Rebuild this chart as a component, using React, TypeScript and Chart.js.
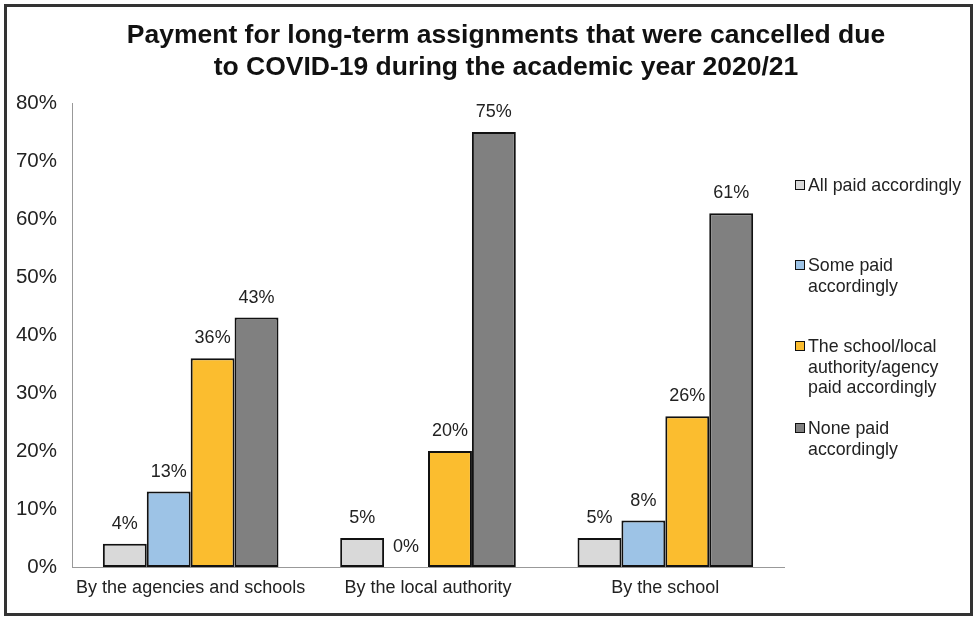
import React, { useEffect, useRef } from "react";
import { Chart, registerables } from "chart.js";

Chart.register(...registerables);

const categories = ["By the agencies and schools", "By the local authority", "By the school"];
const seriesNames = [
  ["All paid accordingly"],
  ["Some paid", "accordingly"],
  ["The school/local", "authority/agency", "paid accordingly"],
  ["None paid", "accordingly"],
];
const allPaid = [4, 5, 5];
const somePaid = [13, 0, 8];
const schoolPaid = [36, 20, 26];
const nonePaid = [43, 75, 61];
const seriesColors = ["#d9d9d9", "#9dc3e6", "#fbbd2f", "#808080"];
const yTicks = [0, 10, 20, 30, 40, 50, 60, 70, 80];
const titleLines = [
  "Payment for long-term assignments that were cancelled due",
  "to COVID-19 during the academic year 2020/21",
];

const FONT = "Arial, 'Liberation Sans', sans-serif";

const valueLabels = {
  id: "valueLabels",
  afterDatasetsDraw(chart: any) {
    const ctx = chart.ctx;
    ctx.save();
    ctx.font = `18px ${FONT}`;
    ctx.fillStyle = "#222";
    ctx.textAlign = "center";
    ctx.textBaseline = "middle";
    chart.data.datasets.forEach((ds: any, di: number) => {
      const meta = chart.getDatasetMeta(di);
      meta.data.forEach((bar: any, i: number) => {
        ctx.fillText(ds.data[i] + "%", bar.x, bar.y - 20);
      });
    });
    ctx.restore();
  },
};

export default function App() {
  const ref = useRef<HTMLCanvasElement>(null);
  useEffect(() => {
    if (!ref.current) return;
    const data = [allPaid, somePaid, schoolPaid, nonePaid];
    const chart = new Chart(ref.current, {
      type: "bar",
      data: {
        labels: categories,
        datasets: data.map((d, i) => ({
          label: seriesNames[i].join(" "),
          data: d,
          backgroundColor: seriesColors[i],
          borderColor: "#111",
          borderWidth: 2,
          borderSkipped: false,
          categoryPercentage: 0.74,
          barPercentage: 1,
        })),
      },
      options: {
        animation: false,
        responsive: false,
        layout: { padding: { left: 0, right: 186, top: 96, bottom: 0 } },
        plugins: {
          legend: { display: false },
          title: { display: false },
          tooltip: { enabled: false },
        },
        scales: {
          x: {
            grid: { display: false, drawTicks: false },
            border: { color: "#999", width: 1 },
            ticks: {
              color: "#222",
              font: { size: 18, family: FONT },
              padding: 10,
              maxRotation: 0,
            },
            afterFit(scale: any) {
              scale.height = 46;
            },
          },
          y: {
            min: 0,
            max: 80,
            afterBuildTicks(scale: any) {
              scale.ticks = yTicks.map((v) => ({ value: v }));
            },
            grid: { display: false, drawTicks: true, tickLength: 7, color: "#999" },
            border: { color: "#999", width: 1 },
            ticks: {
              color: "#222",
              font: { size: 20.5, family: FONT },
              padding: 8,
              callback: (v: any) => v + "%",
            },
            afterFit(scale: any) {
              scale.width = 65;
            },
          },
        },
      },
      plugins: [valueLabels],
    });
    return () => chart.destroy();
  }, []);

  const legendTops = [168, 248, 329, 411];

  return (
    <div
      style={{
        position: "absolute",
        left: 4,
        top: 4,
        width: 969,
        height: 612,
        border: "3px solid #333",
        boxSizing: "border-box",
        background: "#fff",
        fontFamily: FONT,
      }}
    >
      <canvas
        ref={ref}
        width={963}
        height={606}
        style={{ position: "absolute", left: 0, top: 0, width: 963, height: 606 }}
      />
      <div
        style={{
          position: "absolute",
          left: 49,
          width: 900,
          top: 11,
          textAlign: "center",
          fontWeight: "bold",
          fontSize: 26.5,
          lineHeight: "32px",
          color: "#111",
        }}
      >
        {titleLines.map((l, i) => (
          <div key={i}>{l}</div>
        ))}
      </div>
      {seriesNames.map((lines, i) => (
        <div
          key={i}
          style={{
            position: "absolute",
            left: 788,
            top: legendTops[i],
            fontSize: 17.8,
            lineHeight: "20.5px",
            color: "#222",
          }}
        >
          <div
            style={{
              position: "absolute",
              left: 0,
              top: 5,
              width: 10,
              height: 10,
              boxSizing: "border-box",
              border: "1.5px solid #111",
              background: seriesColors[i],
            }}
          />
          <div style={{ marginLeft: 13, whiteSpace: "nowrap" }}>
            {lines.map((l, j) => (
              <div key={j}>{l}</div>
            ))}
          </div>
        </div>
      ))}
    </div>
  );
}
